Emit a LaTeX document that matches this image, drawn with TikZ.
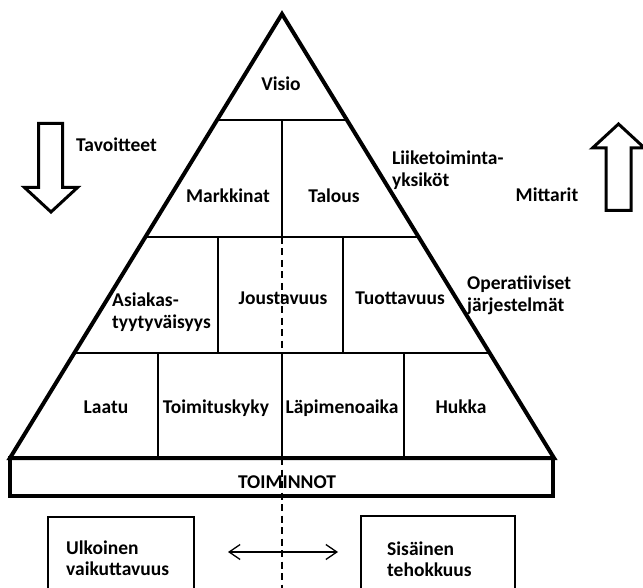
\documentclass[tikz,border=0pt]{standalone}
\usepackage{fontspec}
\setmainfont{Carlito}
\usetikzlibrary{calc,arrows.meta}
\begin{document}
\begin{tikzpicture}[x=1pt,y=-1pt,
  lbl/.style={font=\fontsize{19.5}{22}\selectfont\bfseries, inner sep=0pt, anchor=base},
  lblw/.style={lbl, anchor=base west},
  outline/.style={line width=4pt, line join=miter},
  rowline/.style={line width=1.8pt},
  divider/.style={line width=1.8pt},
  axis/.style={line width=1.8pt, dash pattern=on 7pt off 4.5pt},
  blockarrow/.style={line width=3pt, line join=miter},
  infobox/.style={line width=1.8pt},
  barb/.tip={Straight Barb[length=11pt,width=15pt,line width=1.3pt]},
]
\useasboundingbox (0,0) rectangle (643,588);
\clip (0,0) rectangle (643,588);

% pyramid corners
\coordinate (apex) at (282,14);
\coordinate (bl) at (10,458);
\coordinate (br) at (554,458);

% horizontal level lines
\foreach \t in {0.2387, 0.5023, 0.7635}{
  \draw[rowline] ($(apex)!\t!(bl)$) -- ($(apex)!\t!(br)$);
}

% central axis
\draw[axis] (282,237) -- (282,353);
\draw[axis] (282,458) -- (282,590);
\draw[divider] (282,120) -- (282,237);

% cell dividers
\draw[divider] (218,237) -- (218,353);
\draw[divider] (343,237) -- (343,353);
\draw[divider] (158,353) -- (158,458);
\draw[divider] (282,353) -- (282,458);
\draw[divider] (404,353) -- (404,458);

% pyramid outline
\draw[outline] (apex) -- (bl) -- (br) -- cycle;

% base bar
\draw[line width=3.6pt] (10,458) rectangle (553,496);
\node[lbl] (toim) at (287,488) {TOIMINNOT};

% level labels
\node[lbl] (visio) at (281,91) {Visio};
\node[lbl] (mark) at (228,203) {Markkinat};
\node[lbl] (talous) at (334,203) {Talous};
\node[lblw] (asiak1) at (112,306) {Asiakas-};
\node[lblw] (asiak2) at (112,328) {tyytyväisyys};
\node[lbl] (jous) at (283,305) {Joustavuus};
\node[lbl] (tuot) at (400,305) {Tuottavuus};
\node[lbl] (laatu) at (106,413) {Laatu};
\node[lbl] (toimit) at (216,413) {Toimituskyky};
\node[lbl] (lapi) at (342,413) {Läpimenoaika};
\node[lbl] (hukka) at (461,413) {Hukka};

% side labels
\node[lblw] (tav) at (76,152) {Tavoitteet};
\node[lblw] (liike1) at (392,165) {Liiketoiminta-};
\node[lblw] (liike2) at (392,187) {yksiköt};
\node[lbl] (mitt) at (547,202) {Mittarit};
\node[lblw] (oper1) at (467,290) {Operatiiviset};
\node[lblw] (oper2) at (467,312) {järjestelmät};

% block arrows
\draw[blockarrow] (38.5,123.5) -- (62.5,123.5) -- (62.5,187.5) -- (77.5,187.5)
  -- (51,212) -- (24.5,187.5) -- (38.5,187.5) -- cycle;
\draw[blockarrow] (606,210.5) -- (631,210.5) -- (631,148) -- (644.5,148)
  -- (618.5,124) -- (592.5,148) -- (606,148) -- cycle;

% bottom boxes
\draw[infobox] (48,517) rectangle (194,600);
\draw[infobox] (361,516) rectangle (515,600);
\node[lblw] (ulk1) at (66,554) {Ulkoinen};
\node[lblw] (ulk2) at (66,575) {vaikuttavuus};
\node[lblw] (sis1) at (387,555) {Sisäinen};
\node[lblw] (sis2) at (387,576) {tehokkuus};

% balance arrow
\coordinate (ea) at (228,552);
\coordinate (eb) at (338,552);
\draw[line width=1.3pt, barb-barb] (ea) -- (eb);
\end{tikzpicture}
\end{document}
